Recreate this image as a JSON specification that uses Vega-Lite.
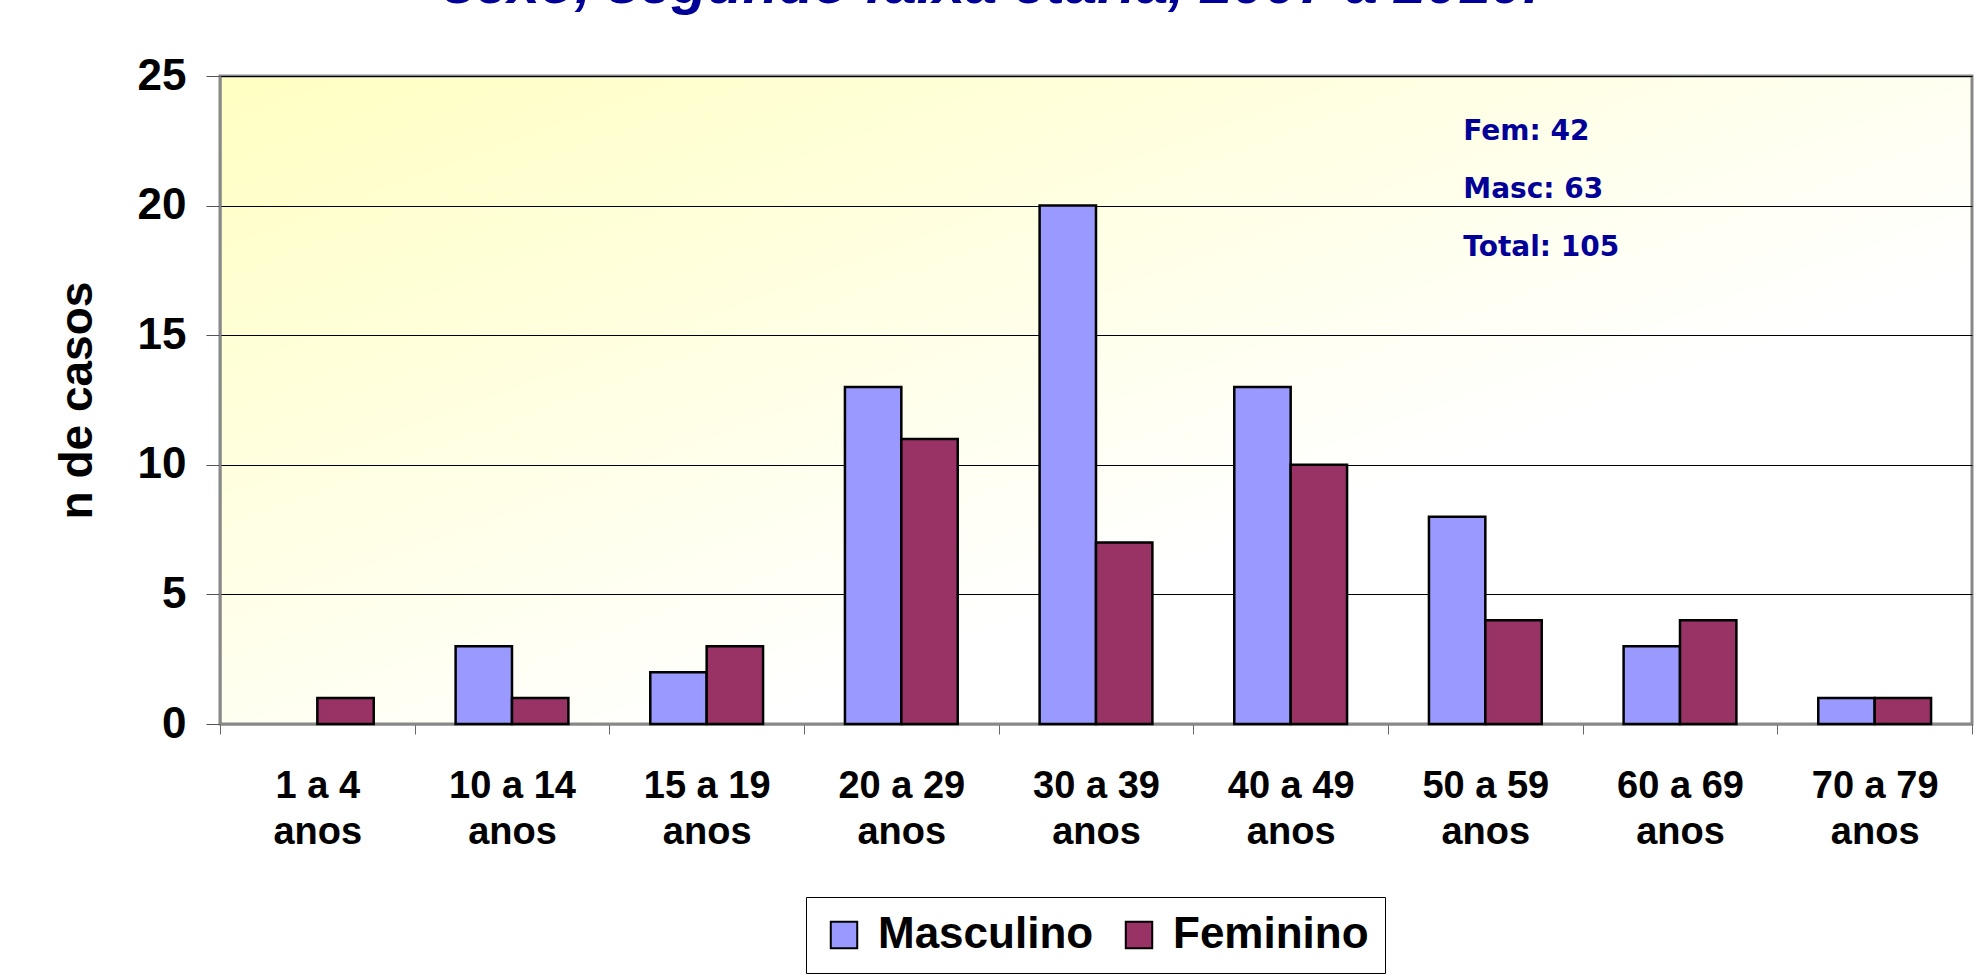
{
  "$schema": "https://vega.github.io/schema/vega-lite/v6.json",
  "width": 1752,
  "height": 648,
  "autosize": {"type": "none"},
  "padding": {"left": 220, "top": 76, "right": 14, "bottom": 255},
  "background": "white",
  "config": {
    "font": "Liberation Sans",
    "view": {
      "stroke": "#888888",
      "strokeWidth": 3,
      "fill": {"gradient": "linear", "x1": 0, "y1": 0, "x2": 1, "y2": 1,
        "stops": [{"offset": 0, "color": "#FFFFC2"}, {"offset": 0.65, "color": "#FFFFFF"}, {"offset": 1, "color": "#FFFFFF"}]}
    }
  },
  "datasets": {
    "casos": [
      {"faixa": "1 a 4 anos", "sexo": "Feminino", "n": 1},
      {"faixa": "10 a 14 anos", "sexo": "Masculino", "n": 3},
      {"faixa": "10 a 14 anos", "sexo": "Feminino", "n": 1},
      {"faixa": "15 a 19 anos", "sexo": "Masculino", "n": 2},
      {"faixa": "15 a 19 anos", "sexo": "Feminino", "n": 3},
      {"faixa": "20 a 29 anos", "sexo": "Masculino", "n": 13},
      {"faixa": "20 a 29 anos", "sexo": "Feminino", "n": 11},
      {"faixa": "30 a 39 anos", "sexo": "Masculino", "n": 20},
      {"faixa": "30 a 39 anos", "sexo": "Feminino", "n": 7},
      {"faixa": "40 a 49 anos", "sexo": "Masculino", "n": 13},
      {"faixa": "40 a 49 anos", "sexo": "Feminino", "n": 10},
      {"faixa": "50 a 59 anos", "sexo": "Masculino", "n": 8},
      {"faixa": "50 a 59 anos", "sexo": "Feminino", "n": 4},
      {"faixa": "60 a 69 anos", "sexo": "Masculino", "n": 3},
      {"faixa": "60 a 69 anos", "sexo": "Feminino", "n": 4},
      {"faixa": "70 a 79 anos", "sexo": "Masculino", "n": 1},
      {"faixa": "70 a 79 anos", "sexo": "Feminino", "n": 1}
    ],
    "notas": [
      {"faixa": "50 a 59 anos", "n": 22.85, "rotulo": "Fem: 42"},
      {"faixa": "50 a 59 anos", "n": 20.6, "rotulo": "Masc: 63"},
      {"faixa": "50 a 59 anos", "n": 18.37, "rotulo": "Total: 105"}
    ],
    "titulo": [
      {"faixa": "30 a 39 anos", "n": 27.81, "rotulo": "sexo, segundo faixa etária, 2007 a 2010."}
    ]
  },
  "layer": [
    {
      "data": {"name": "casos"},
      "mark": {"type": "bar", "stroke": "black", "strokeWidth": 2.5},
      "encoding": {
        "x": {
          "field": "faixa", "type": "nominal",
          "scale": {
            "domain": ["1 a 4 anos", "10 a 14 anos", "15 a 19 anos", "20 a 29 anos", "30 a 39 anos", "40 a 49 anos", "50 a 59 anos", "60 a 69 anos", "70 a 79 anos"],
            "paddingInner": 0, "paddingOuter": 0
          },
          "axis": {
            "title": null, "labelAngle": 0, "tickBand": "extent",
            "tickSize": 10, "tickColor": "#666666", "domainColor": "#888888", "domainWidth": 2,
            "labelFontSize": 38, "labelFontWeight": "bold", "labelColor": "black",
            "labelPadding": 33, "labelLineHeight": 46,
            "labelExpr": "datum.label ? [replace(datum.label, ' anos', ''), 'anos'] : ''"
          }
        },
        "xOffset": {
          "field": "sexo", "type": "nominal",
          "scale": {"domain": ["Masculino", "Feminino"], "paddingOuter": 0.726, "paddingInner": 0}
        },
        "y": {
          "field": "n", "type": "quantitative",
          "scale": {"domain": [0, 25], "nice": false},
          "axis": {
            "title": "n de casos", "values": [0, 5, 10, 15, 20, 25],
            "grid": true, "gridColor": "black", "gridWidth": 1,
            "domainColor": "#888888", "domainWidth": 2, "tickColor": "#555555", "tickSize": 14,
            "labelFontSize": 44, "labelFontWeight": "bold", "labelColor": "black", "labelPadding": 20,
            "titleFontSize": 46, "titleFontWeight": "bold", "titleColor": "black", "titlePadding": 36
          }
        },
        "color": {
          "field": "sexo", "type": "nominal",
          "scale": {"domain": ["Masculino", "Feminino"], "range": ["#9999FF", "#993366"]},
          "legend": {
            "title": null, "orient": "none", "legendX": 586, "legendY": 821, "direction": "horizontal",
            "symbolType": "square", "symbolSize": 700, "symbolStrokeColor": "black", "symbolStrokeWidth": 2,
            "labelFontSize": 44, "labelFontWeight": "bold", "labelColor": "black", "labelLimit": 500,
            "strokeColor": "black", "fillColor": "white", "padding": 16,
            "columnPadding": 23, "labelOffset": 12
          }
        }
      }
    },
    {
      "data": {"name": "notas"},
      "mark": {"type": "text", "align": "left", "baseline": "middle", "dx": -22, "font": "DejaVu Sans", "fontWeight": "bold", "fontSize": 28, "color": "#000099"},
      "encoding": {
        "x": {"field": "faixa", "type": "nominal"},
        "y": {"field": "n", "type": "quantitative", "scale": {"domain": [0, 25], "nice": false}},
        "text": {"field": "rotulo"}
      }
    },
    {
      "data": {"name": "titulo"},
      "mark": {"type": "text", "align": "center", "baseline": "alphabetic", "dx": -105, "font": "Liberation Sans", "fontWeight": "bold", "fontStyle": "italic", "fontSize": 58, "color": "#000099"},
      "encoding": {
        "x": {"field": "faixa", "type": "nominal"},
        "y": {"field": "n", "type": "quantitative", "scale": {"domain": [0, 25], "nice": false}},
        "text": {"field": "rotulo"}
      }
    }
  ]
}
